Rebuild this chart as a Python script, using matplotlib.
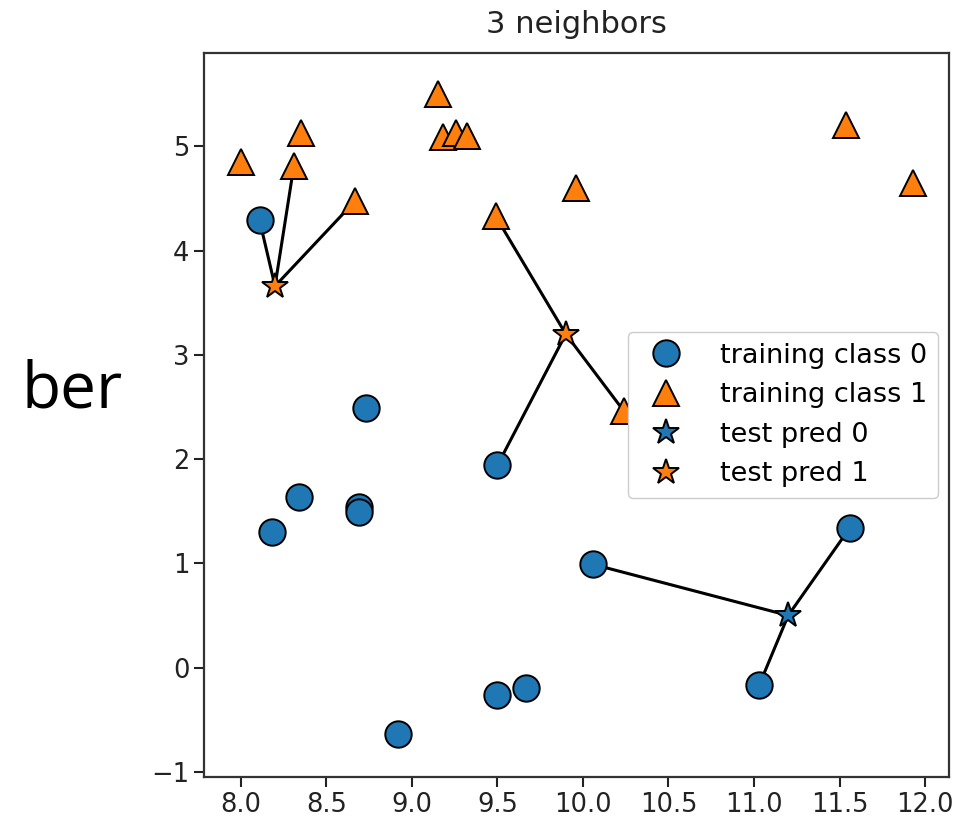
import numpy as np
import matplotlib
matplotlib.use("Agg")
import matplotlib.pyplot as plt

# forge-like training data
x_train = [9.96, 11.03, 11.54, 8.69, 8.11, 8.31, 11.93, 9.67, 8.35, 8.67, 9.18, 10.24, 8.69,
           8.92, 9.49, 9.26, 8.00, 8.18, 8.73, 9.32, 10.06, 9.50, 8.34, 9.50, 9.15, 11.56]
y_train = [4.60, -0.17, 5.21, 1.54, 4.29, 4.81, 4.65, -0.20, 5.13, 4.48, 5.09, 2.46, 1.49,
           -0.64, 4.33, 5.13, 4.85, 1.30, 2.49, 5.10, 0.99, -0.26, 1.64, 1.94, 5.50, 1.34]
label_train = [1, 0, 1, 0, 0, 1, 1, 0, 1, 1, 1, 1, 0, 0, 1, 1, 1, 0, 0, 1, 0, 0, 0, 0, 1, 0]

x_test = [8.2, 9.9, 11.2]
y_test = [3.66, 3.2, 0.5]
pred_test = [1, 1, 0]
# indices of the 3 nearest training points for each test point
neighbors = [[4, 5, 9], [14, 11, 23], [20, 1, 25]]

colors = ["#1f77b4", "#ff7f0e"]

fig = plt.figure(figsize=(9.7, 8.21), dpi=100)
ax = fig.add_axes([204 / 970, 1 - 777 / 821, 745 / 970, 724.3 / 821])

xt = np.array(x_train)
yt = np.array(y_train)
lt = np.array(label_train)

for xs, ys, nb in zip(x_test, y_test, neighbors):
    for n in nb:
        ax.plot([xs, xt[n]], [ys, yt[n]], color="k", lw=2.2, zorder=1)

ms = 19
ax.plot(xt[lt == 0], yt[lt == 0], "o", color=colors[0], mec="k", mew=1.4, ms=ms,
        label="training class 0", zorder=3)
ax.plot(xt[lt == 1], yt[lt == 1], "^", color=colors[1], mec="k", mew=1.4, ms=ms,
        label="training class 1", zorder=3)
pt = np.array(pred_test)
ax.plot(np.array(x_test)[pt == 0], np.array(y_test)[pt == 0], "*", color=colors[0], mec="k",
        mew=1.4, ms=ms, label="test pred 0", zorder=3)
ax.plot(np.array(x_test)[pt == 1], np.array(y_test)[pt == 1], "*", color=colors[1], mec="k",
        mew=1.4, ms=ms, label="test pred 1", zorder=3)

ax.set_xlim(7.785, 12.14)
ax.set_ylim(-1.05, 5.90)
ax.set_xticks(np.arange(8.0, 12.01, 0.5))
ax.set_yticks(range(-1, 6))
ax.set_yticklabels(["\u22121", "0", "1", "2", "3", "4", "5"])
ax.tick_params(labelsize=18.5, length=7, width=1.5, colors="#222222")
for s in ax.spines.values():
    s.set_linewidth(1.6)
    s.set_color("#333333")

ax.set_title("3 neighbors", fontsize=22, color="#222222", pad=14)
ax.legend(loc="center right", fontsize=19.5, framealpha=1, edgecolor="#cccccc",
          handletextpad=1.0, borderaxespad=0.4, borderpad=0.4)

# cropped slide text on the left
fig.text(22 / 970, 1 - 408 / 821, "ber", fontsize=46, family="Open Sans",
         ha="left", va="baseline", color="black")

fig.savefig("out.png", dpi=100)
